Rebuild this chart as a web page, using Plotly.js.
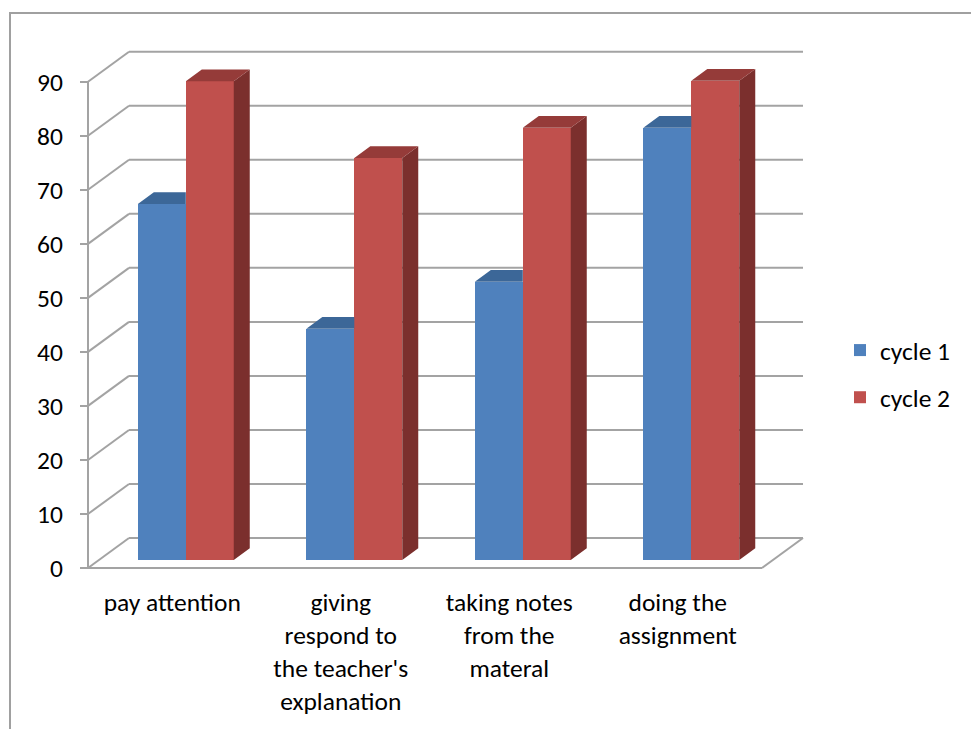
<!DOCTYPE html>
<html><head><meta charset="utf-8">
<script src="https://cdn.plot.ly/plotly-3.0.1.min.js"></script>
<style>
html,body{margin:0;padding:0;background:#fff;}
#chart{width:971px;height:729px;position:absolute;left:0;top:0;}
#frame{position:absolute;left:9px;top:12px;width:1000px;height:800px;border-left:2px solid #a0a0a0;border-top:2px solid #a0a0a0;pointer-events:none;}
</style>
</head><body><div id="chart"></div><div id="frame"></div>
<script>
// ---- data ----
const categories = ["pay attention", "giving respond to the teacher's explanation", "taking notes from the materal", "doing the assignment"];
const tickLabels = ["pay attention", "giving<br>respond to<br>the teacher's<br>explanation", "taking notes<br>from the<br>materal", "doing the<br>assignment"];
const seriesNames = ["cycle 1", "cycle 2"];
const cycle1 = [65.9, 42.8, 51.5, 80];
const cycle2 = [88.6, 74.4, 80, 88.7];
const yTicks = [0, 10, 20, 30, 40, 50, 60, 70, 80, 90];

// ---- styling / geometry (pixel based projection) ----
const PXX = 168.5, PXY = 5.403;            // px per category, px per value unit
const wallDX = 41 / PXX, wallDY = 30 / PXY; // depth of the walls
const barW = 47.95 / PXX, pairOff = -34.4 / PXX;
const barBase = 8 / PXY;                     // bars sit back from the front edge
const depthDX = 16 / PXX, depthDY = 11.7 / PXY;
const frontColors = ["#4f81bd", "#c0504d"];
const topColors = ["#3c6798", "#953b39"];
const sideColors = ["#345a85", "#7b2f2d"];
const gridColor = "#a3a3a3";
const FONT = "Carlito, Lato, sans-serif";
const FS = 25.5;

const xs = categories.map((c, i) => i);
const xMin = -0.5, xMax = categories.length - 0.5;
const seriesVals = [cycle1, cycle2];

const traces = [];
// front faces as bars
seriesVals.forEach((vals, s) => {
  traces.push({
    type: "bar", name: seriesNames[s],
    x: xs.map(i => i + pairOff + s * barW + barW / 2),
    y: vals, base: vals.map(() => barBase), width: barW,
    marker: {color: frontColors[s], line: {width: 0}},
    legendgroup: "g" + s, hoverinfo: "skip"
  });
});
// top and side faces
seriesVals.forEach((vals, s) => {
  const tx = [], ty = [], sx = [], sy = [];
  vals.forEach((v, i) => {
    const xl = i + pairOff + s * barW, xr = xl + barW;
    const yt = barBase + v;
    const next = seriesVals[s + 1];
    const hidden = next && next[i] >= v;
    if (hidden) {
      tx.push(xl, xr, xr, xl + depthDX, xl, null);
      ty.push(yt, yt, yt + depthDY, yt + depthDY, yt, null);
    } else {
      tx.push(xl, xr, xr + depthDX, xl + depthDX, xl, null);
      ty.push(yt, yt, yt + depthDY, yt + depthDY, yt, null);
      sx.push(xr, xr + depthDX, xr + depthDX, xr, xr, null);
      sy.push(barBase, barBase + depthDY, yt + depthDY, yt, barBase, null);
    }
  });
  if (sx.length) traces.push({type: "scatter", mode: "lines", x: sx, y: sy, fill: "toself",
    fillcolor: sideColors[s], line: {width: 0, color: sideColors[s]}, showlegend: false, hoverinfo: "skip"});
  traces.push({type: "scatter", mode: "lines", x: tx, y: ty, fill: "toself",
    fillcolor: topColors[s], line: {width: 0, color: topColors[s]}, showlegend: false, hoverinfo: "skip"});
});

// walls / gridlines as shapes below the bars
const shapes = [];
const ln = (x0, y0, x1, y1) => ({type: "line", xref: "x", yref: "y", x0, y0, x1, y1, layer: "below",
  line: {color: gridColor, width: 2}});
yTicks.forEach(v => {
  shapes.push(ln(xMin, v, xMin + wallDX, v + wallDY));
  shapes.push(ln(xMin + wallDX, v + wallDY, xMax + wallDX, v + wallDY));
});
shapes.push(ln(xMax, 0, xMax + wallDX, wallDY));
shapes.push(ln(xMin, 0, xMax, 0));
shapes.push(ln(xMin, 0, xMin, yTicks[yTicks.length - 1]));

const L = 78, R = 161, T = 45, B = 157;
const plotW = 971 - L - R, plotH = 729 - T - B;
const xRange = [xMin - 10 / PXX, xMax + 48 / PXX];
const yRange = [-4 / PXY, (568 - T) / PXY];
const yAxisPos = 10 / plotW;
const xAxisPos = 4 / plotH;

const layout = {
  width: 971, height: 729,
  margin: {l: L, r: R, t: T, b: B, pad: 0},
  paper_bgcolor: "#ffffff", plot_bgcolor: "rgba(0,0,0,0)",
  barmode: "overlay", bargap: 0,
  font: {family: FONT, size: FS, color: "#000"},
  showlegend: true,
  legend: {x: (840 - L) / plotW, y: (729 - B - 374) / plotH, xanchor: "left", yanchor: "middle",
    traceorder: "grouped", tracegroupgap: 11, font: {family: FONT, size: FS, color: "#000"},
    bgcolor: "rgba(0,0,0,0)"},
  xaxis: {range: xRange, tickvals: xs, ticktext: tickLabels, ticks: "", showgrid: false, zeroline: false,
    showline: false, anchor: "free", position: xAxisPos, ticklabelstandoff: 16,
    tickfont: {family: FONT, size: FS, color: "#000"}, fixedrange: true},
  xaxis2: {range: xRange, overlaying: "x", anchor: "free", position: xAxisPos, side: "bottom",
    tickvals: [-0.5, 0.5, 1.5, 2.5, 3.5], ticks: "outside", ticklen: 7, tickwidth: 2, tickcolor: gridColor,
    showticklabels: false, showgrid: false, zeroline: false, showline: false},
  yaxis: {range: yRange, tickvals: yTicks, ticks: "outside", ticklen: 8, tickwidth: 2, tickcolor: gridColor,
    showgrid: false, zeroline: false, showline: false, anchor: "free", position: yAxisPos,
    ticklabelstandoff: 12, tickfont: {family: FONT, size: FS, color: "#000"}, fixedrange: true},
  shapes: shapes
};
Plotly.newPlot("chart", traces, layout, {displayModeBar: false, staticPlot: true});
</script>
</body></html>
